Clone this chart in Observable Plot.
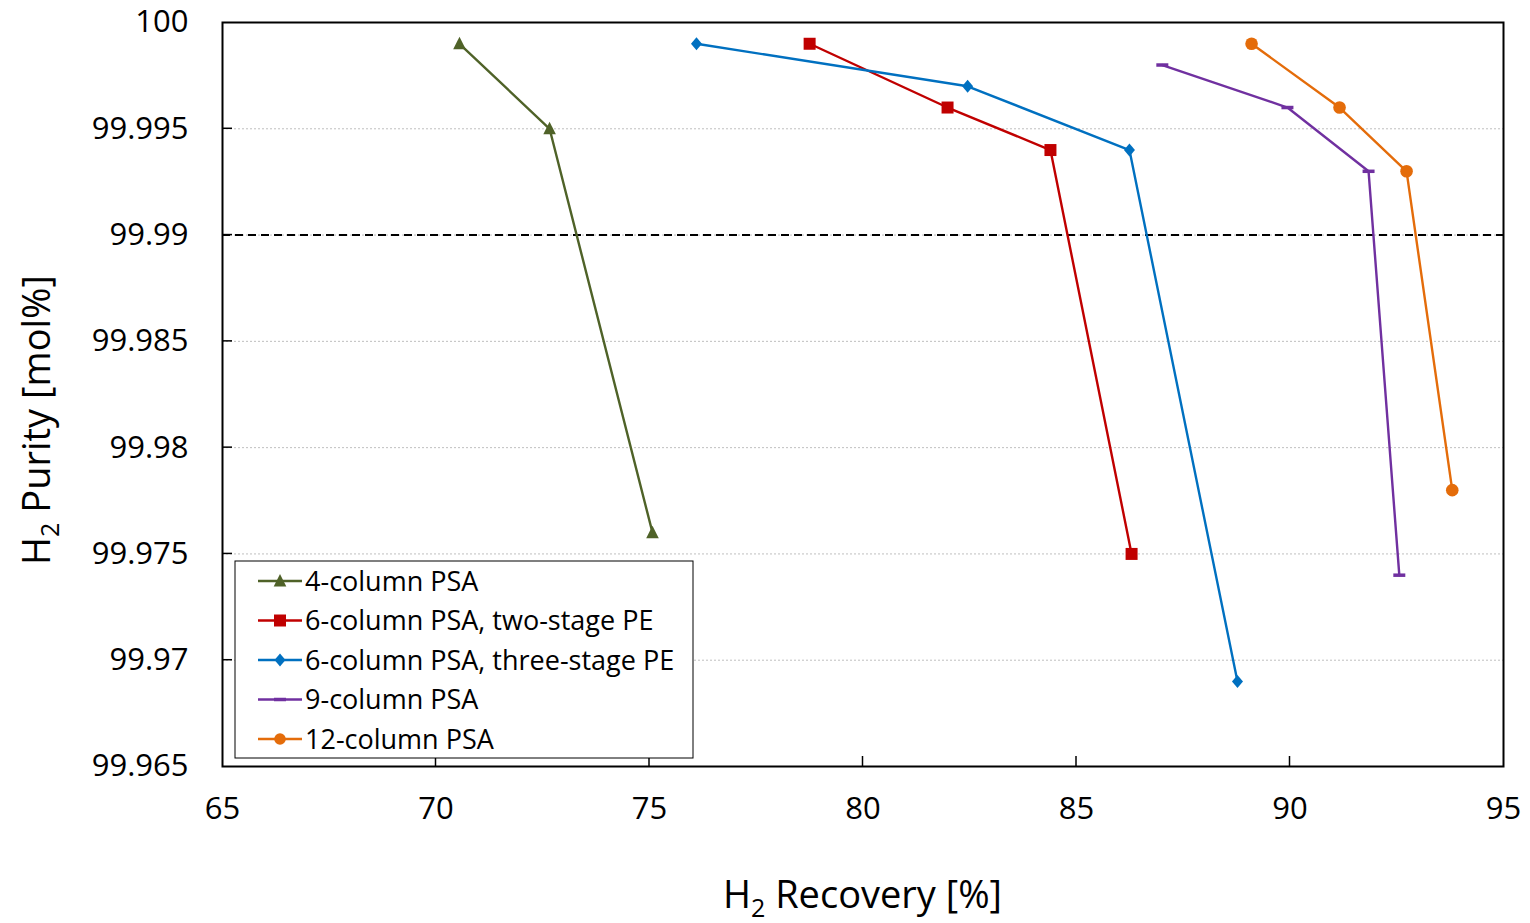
<!DOCTYPE html>
<html><head><meta charset="utf-8">
<script src="https://cdn.jsdelivr.net/npm/d3@7"></script>
<script src="https://cdn.jsdelivr.net/npm/@observablehq/plot@0.6"></script>
<style>body{margin:0;background:#fff;} #chart{width:1530px;height:923px;}</style>
</head><body><div id="chart"></div>
<script>
// ---- data ----
const seriesNames = ["4-column PSA", "6-column PSA, two-stage PE", "6-column PSA, three-stage PE", "9-column PSA", "12-column PSA"];
const recovery4col = [70.55, 72.66, 75.07];
const purity4col = [99.999, 99.995, 99.976];
const recovery6colTwo = [78.75, 81.98, 84.39, 86.29];
const purity6colTwo = [99.999, 99.996, 99.994, 99.975];
const recovery6colThree = [76.1, 82.45, 86.24, 88.77];
const purity6colThree = [99.999, 99.997, 99.994, 99.969];
const recovery9col = [87.01, 89.94, 91.84, 92.56];
const purity9col = [99.998, 99.996, 99.993, 99.974];
const recovery12col = [89.1, 91.16, 92.73, 93.8];
const purity12col = [99.999, 99.996, 99.993, 99.978];
const thresholdPurity = [99.99];
const xTicks = [65, 70, 75, 80, 85, 90, 95];
const yTicks = [100, 99.995, 99.99, 99.985, 99.98, 99.975, 99.97, 99.965];
const colors = ["#4F6228", "#C00000", "#0070C0", "#7030A0", "#E46C0A"];

// custom symbols
const dashSymbol = {draw(ctx) { const w = 12, h = 3.5; ctx.rect(-w / 2, -h / 2, w, h); ctx.closePath(); }};
const diamondSymbol = {draw(ctx) { ctx.moveTo(0, -6.5); ctx.lineTo(5.5, 0); ctx.lineTo(0, 6.5); ctx.lineTo(-5.5, 0); ctx.closePath(); }};
const triangleSymbol = {draw(ctx) { ctx.moveTo(0, -7); ctx.lineTo(6.3, 5.5); ctx.lineTo(-6.3, 5.5); ctx.closePath(); }};
const squareSymbol = {draw(ctx) { ctx.rect(-6, -6, 12, 12); ctx.closePath(); }};
const symbols = [triangleSymbol, squareSymbol, diamondSymbol, dashSymbol, d3.symbolCircle];
const radii = [6, 6, 6, 6, 6.3];

const recs = [recovery4col, recovery6colTwo, recovery6colThree, recovery9col, recovery12col];
const purs = [purity4col, purity6colTwo, purity6colThree, purity9col, purity12col];
const series = seriesNames.map((name, i) => ({
  name, color: colors[i], symbol: symbols[i], r: radii[i],
  rows: recs[i].map((x, j) => ({x, y: purs[i][j]}))
}));

const marks = [
  Plot.gridY(yTicks.slice(1, -1), {stroke: "#bfbfbf", strokeOpacity: 1, strokeDasharray: "2,2", strokeWidth: 1}),
  Plot.ruleY(thresholdPurity, {stroke: "#000", strokeWidth: 2, strokeDasharray: "8,5"})
];
series.forEach(s => {
  marks.push(Plot.line(s.rows, {x: "x", y: "y", stroke: s.color, strokeWidth: 2.4}));
  marks.push(Plot.dot(s.rows, {x: "x", y: "y", fill: s.color, stroke: "none", symbol: s.symbol, r: s.r}));
});
marks.push(Plot.frame({stroke: "#000", strokeWidth: 2}));

const plot = Plot.plot({
  width: 1530, height: 923,
  marginLeft: 222, marginRight: 27, marginTop: 22, marginBottom: 157,
  style: {fontFamily: "'Open Sans', sans-serif", fontSize: "31px", color: "#000", background: "#fff", overflow: "visible"},
  x: {domain: [65, 95], ticks: xTicks, tickSize: 0, tickPadding: 30, label: null},
  y: {domain: [99.965, 100], ticks: yTicks, tickSize: 0, tickPadding: 34, label: null, tickFormat: d => String(+d.toFixed(3))},
  marks
});
document.getElementById("chart").appendChild(plot);

const svg = d3.select(plot);
const xs = plot.scale("x"), ys = plot.scale("y");
const x0 = xs.apply(65), x1 = xs.apply(95), y0 = ys.apply(99.965), y1 = ys.apply(100);

// inward tick marks
const tg = svg.append("g").attr("stroke", "#000").attr("stroke-width", 1.5);
xTicks.slice(1, -1).forEach(t => tg.append("line").attr("x1", xs.apply(t)).attr("x2", xs.apply(t)).attr("y1", y0).attr("y2", y0 - 10));
yTicks.slice(1, -1).forEach(t => tg.append("line").attr("x1", x0).attr("x2", x0 + 10).attr("y1", ys.apply(t)).attr("y2", ys.apply(t)));

// axis titles
const xt = svg.append("text").attr("x", (x0 + x1) / 2).attr("y", 908).attr("text-anchor", "middle")
  .attr("font-size", 38).attr("fill", "#000");
xt.append("tspan").text("H");
xt.append("tspan").attr("font-size", 25).attr("dy", 9).text("2");
xt.append("tspan").attr("dy", -9).text(" Recovery [%]");

const yt = svg.append("text").attr("transform", `translate(50,420) rotate(-90)`).attr("text-anchor", "middle")
  .attr("font-size", 38).attr("fill", "#000");
yt.append("tspan").text("H");
yt.append("tspan").attr("font-size", 25).attr("dy", 9).text("2");
yt.append("tspan").attr("dy", -9).text(" Purity [mol%]");

// legend
const lg = svg.append("g").attr("transform", `translate(${x0 + 13},561)`);
lg.append("rect").attr("width", 458).attr("height", 197).attr("fill", "#fff").attr("stroke", "#000").attr("stroke-width", 1);
series.forEach((s, i) => {
  const cy = 20 + i * 39.5;
  lg.append("line").attr("x1", 23).attr("x2", 67).attr("y1", cy).attr("y2", cy).attr("stroke", s.color).attr("stroke-width", 2.4);
  lg.append("path").attr("transform", `translate(45,${cy})`).attr("fill", s.color)
    .attr("d", d3.symbol(s.symbol, Math.PI * s.r * s.r * 0.85)());
  lg.append("text").attr("x", 70).attr("y", cy).attr("dy", "0.36em").attr("text-anchor", "start")
    .attr("font-size", 27).attr("fill", "#000").text(s.name);
});
</script>
</body></html>
